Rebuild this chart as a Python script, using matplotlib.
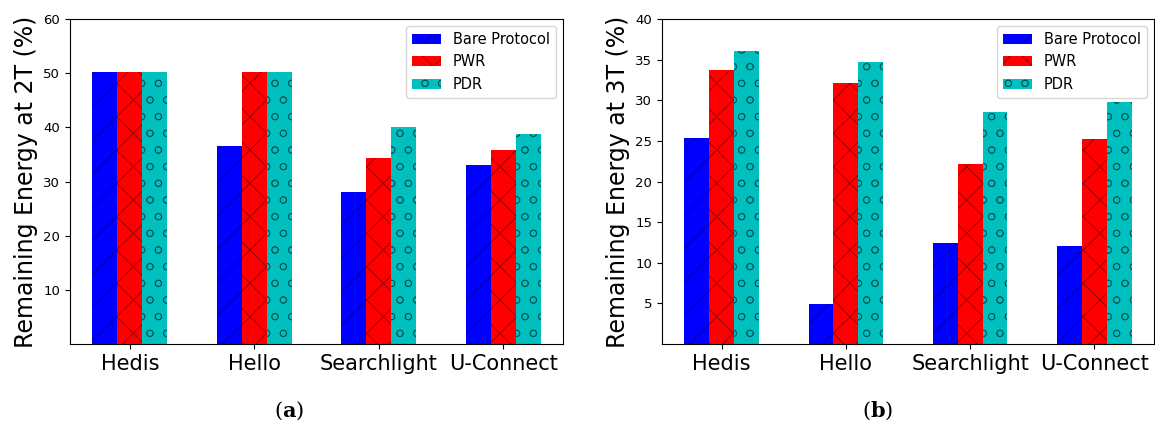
import matplotlib
matplotlib.use("Agg")
import matplotlib.pyplot as plt
import numpy as np

apps = ['Hedis', 'Hello', 'Searchlight', 'U-Connect']
series = ['Bare Protocol', 'PWR', 'PDR']

energy_2t = {
    'Bare Protocol': [50.2, 36.6, 28.0, 33.1],
    'PWR': [50.2, 50.2, 34.4, 35.9],
    'PDR': [50.2, 50.2, 40.1, 38.8],
}
energy_3t = {
    'Bare Protocol': [25.4, 4.9, 12.4, 12.1],
    'PWR': [33.7, 32.1, 22.2, 25.2],
    'PDR': [36.1, 34.7, 28.6, 29.8],
}

colors = ['blue', 'red', 'c']
hatches = ['/', 'x', 'o']
width = 0.2

plt.rcParams['hatch.linewidth'] = 0.6
plt.rcParams['mathtext.fontset'] = 'dejavuserif'

fig = plt.figure(figsize=(11.55, 4.25), dpi=100)
ax1 = fig.add_axes([70/1155, 81/425, 493/1155, 325/425])
ax2 = fig.add_axes([662/1155, 81/425, 492/1155, 325/425])

x = np.arange(len(apps))


def draw(ax, data, ylabel, ymax, yticks):
    for i, s in enumerate(series):
        ax.bar(x + (i - 1) * width, data[s], width, color=colors[i],
               hatch=hatches[i], edgecolor=(0, 0, 0, 0.45), linewidth=0, label=s)
    ax.set_ylim(0, ymax)
    ax.set_yticks(yticks)
    ax.tick_params(axis='y', labelsize=9.5)
    ax.set_xticks(x)
    ax.set_xticklabels(apps, fontsize=15)
    ax.set_ylabel(ylabel, fontsize=17)
    ax.legend(loc='upper right', fontsize=10.5)


draw(ax1, energy_2t, 'Remaining Energy at 2T (%)', 60, [10, 20, 30, 40, 50, 60])
draw(ax2, energy_3t, 'Remaining Energy at 3T (%)', 40, [5, 10, 15, 20, 25, 30, 35, 40])

fig.text(289/1155, 14/425, r'($\mathbf{a}$)', ha='center', va='center', fontsize=15,
         family='DejaVu Serif')
fig.text(878/1155, 14/425, r'($\mathbf{b}$)', ha='center', va='center', fontsize=15,
         family='DejaVu Serif')

fig.savefig('out.png', dpi=100)
